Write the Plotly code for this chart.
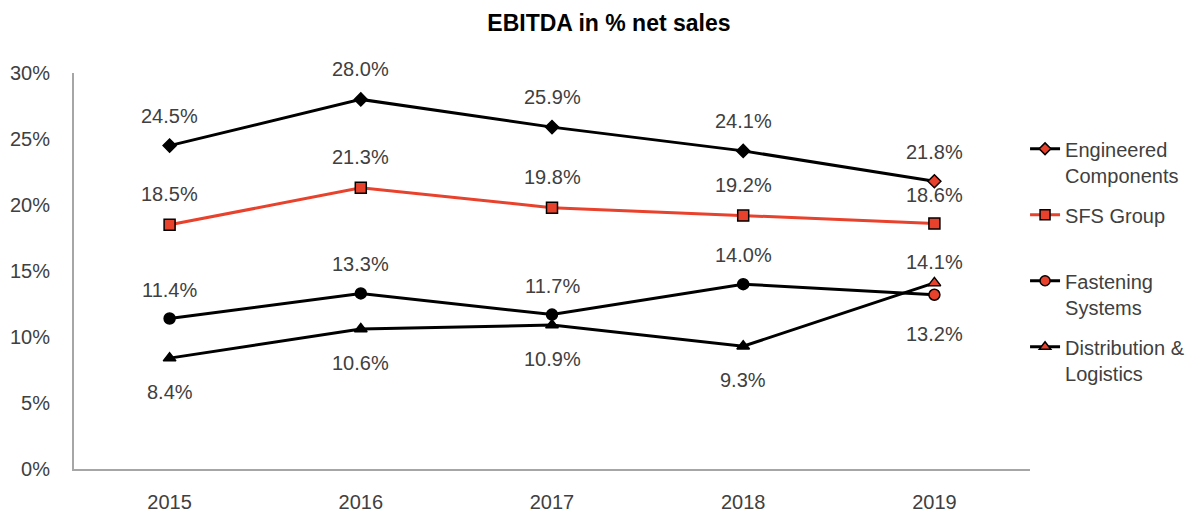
import plotly.graph_objects as go

years = ["2015", "2016", "2017", "2018", "2019"]
engineered = [24.5, 28.0, 25.9, 24.1, 21.8]
sfs_group = [18.5, 21.3, 19.8, 19.2, 18.6]
fastening = [11.4, 13.3, 11.7, 14.0, 13.2]
distribution = [8.4, 10.6, 10.9, 9.3, 14.1]
y_ticks = [0, 5, 10, 15, 20, 25, 30]

BLACK = "#000000"
RED = "#E8412C"
TXT = "#404040"
FONT = "Liberation Sans"

series = [
    dict(name="Engineered<br>Components", y=engineered, line=BLACK, symbol="diamond", size=10,
         fills=[BLACK] * 4 + [RED], shifts=[30, 30, 30, 30, 29], group="a"),
    dict(name="SFS Group<br>&nbsp;", y=sfs_group, line=RED, symbol="square", size=11,
         fills=[RED] * 5, shifts=[31, 31, 31, 31, 28], group="b"),
    dict(name="Fastening<br>Systems", y=fastening, line=BLACK, symbol="circle", size=11,
         fills=[BLACK] * 4 + [RED], shifts=[29, 29, 29, 29, -39], group="c"),
    dict(name="Distribution &<br>Logistics", y=distribution, line=BLACK, symbol="triangle-up", size=11,
         fills=[BLACK] * 4 + [RED], shifts=[-34, -34, -34, -34, 21], group="d"),
]

fig = go.Figure()
annotations = []
for s in series:
    fig.add_trace(go.Scatter(
        x=years, y=s["y"], mode="lines+markers", name=s["name"],
        legendgroup=s["group"], showlegend=False,
        line=dict(color=s["line"], width=3),
        marker=dict(symbol=s["symbol"], size=s["size"], color=s["fills"],
                    line=dict(color=BLACK, width=1.5)),
    ))
    # legend entry (red marker as in the reference legend)
    fig.add_trace(go.Scatter(
        x=[years[0]], y=[None], mode="lines+markers", name=s["name"],
        legendgroup=s["group"], showlegend=True, hoverinfo="skip",
        line=dict(color=s["line"], width=3),
        marker=dict(symbol=s["symbol"], size=s["size"] - 1, color=RED,
                    line=dict(color=BLACK, width=1.5)),
    ))
    for i, (v, sh) in enumerate(zip(s["y"], s["shifts"])):
        annotations.append(dict(x=i, y=v, xref="x", yref="y", text=f"{v:.1f}%",
                                showarrow=False, yshift=sh,
                                font=dict(family=FONT, size=20, color=TXT)))

fig.update_layout(
    width=1194, height=513,
    margin=dict(l=74, r=164, t=73, b=44, autoexpand=False),
    paper_bgcolor="white", plot_bgcolor="white",
    title=dict(text="<b>EBITDA in % net sales</b>", x=0.51, xanchor="center", y=0.955, yanchor="middle",
               font=dict(family=FONT, size=23, color=BLACK)),
    font=dict(family=FONT, size=20, color=TXT),
    showlegend=True,
    legend=dict(xref="container", x=0.8585, xanchor="left", y=0.858, yanchor="top",
                traceorder="grouped", tracegroupgap=11, valign="top", bgcolor="rgba(0,0,0,0)",
                font=dict(family=FONT, size=20, color=TXT)),
    annotations=annotations,
)
fig.update_xaxes(type="category", range=[-0.5, len(years) - 0.5], showline=True,
                 linecolor="#A6A6A6", linewidth=2, automargin=False,
                 showgrid=False, ticks="", ticklabelstandoff=14,
                 tickfont=dict(family=FONT, size=20, color=TXT))
fig.update_yaxes(range=[0, 30], tickvals=y_ticks, ticktext=[f"{t}%" for t in y_ticks],
                 showline=True, linecolor="#A6A6A6", linewidth=2, showgrid=False,
                 zeroline=False, ticks="", ticklabelstandoff=18, automargin=False,
                 tickfont=dict(family=FONT, size=20, color=TXT))

fig.write_html("out.html", config={"displayModeBar": False},
               post_script="document.body.style.margin='0';")
